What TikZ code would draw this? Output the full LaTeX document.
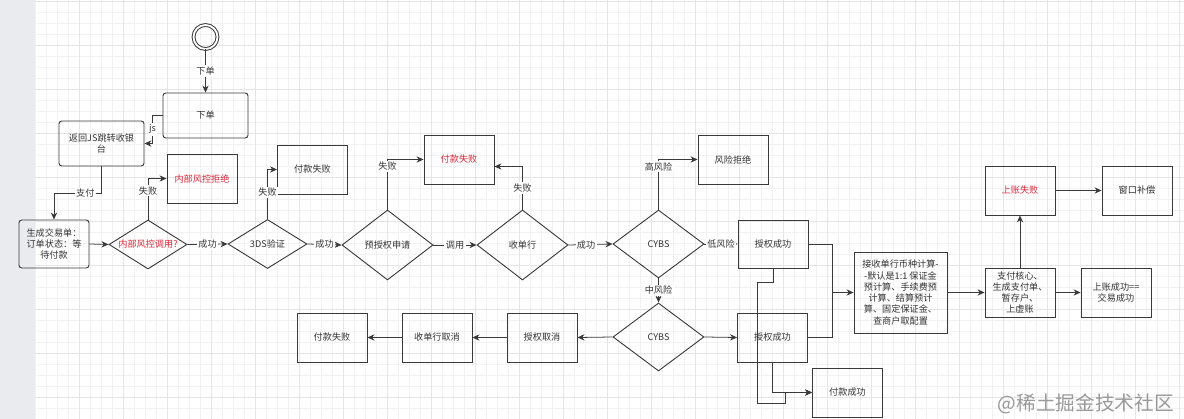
\documentclass[tikz,border=0pt]{standalone}
\usepackage{fontspec}
\setmainfont{Noto Sans CJK SC}
\usetikzlibrary{shapes.geometric, arrows.meta, calc}
\definecolor{riskred}{RGB}{222, 40, 58}
\definecolor{linegray}{RGB}{58, 58, 58}
\definecolor{sidegray}{RGB}{233, 235, 238}

\begin{document}
\begin{tikzpicture}[x=0.025cm, y=-0.025cm, font=\fontsize{6.5}{8}\selectfont, text=black!80,
    box/.style={draw=linegray, line width=0.65pt, minimum width=1.75cm, minimum height=1.225cm, align=center, inner sep=1pt},
    rbox/.style={box, rounded corners=2pt},
    decision/.style={diamond, draw=linegray, line width=0.65pt, inner sep=0pt},
    wire/.style={draw=linegray, line width=0.55pt},
    arr/.style={wire, -{Stealth[length=5pt, width=4.5pt]}},
    lbl/.style={fill=white, inner sep=1pt}]
                    \useasboundingbox (0,0) rectangle (1184,419);
                    % Canvas and grid
                    \fill[white] (0,0) rectangle (1184,419);
                    \fill[sidegray] (0,0) rectangle (35,419);
                    \foreach \gx in {35,46,...,1184} \draw[black!5, line width=0.3pt] (\gx,0) -- (\gx,419);
                    \foreach \gy in {1,12,...,419} \draw[black!5, line width=0.3pt] (35,\gy) -- (1184,\gy);
                    \foreach \gx in {79,123,...,1184} \draw[black!10, line width=0.4pt] (\gx,0) -- (\gx,419);
                    \foreach \gy in {1,45,...,419} \draw[black!10, line width=0.4pt] (35,\gy) -- (1184,\gy);

                    % Order entry
                    \node[circle, draw=linegray, line width=0.7pt, double=white, double distance=1.3pt, minimum size=0.6cm] (start) at (205.5,37) {};
                    \node[rbox, minimum width=2.125cm, minimum height=1.125cm] (order) at (205.5,115.5) {下单};
                    \node[rbox, minimum width=2.125cm, minimum height=1.125cm] (jsback) at (101.5,143.5) {返回JS跳转收银\\台};
                    \node[rbox, minimum height=1.2cm] (trade) at (54,244) {生成交易单：\\订单状态：等\\待付款};

                    % Checks
                    \node[decision, minimum width=1.95cm, minimum height=1.225cm, label={[text=riskred]center:内部风控调用?}] (riskchk) at (148,244.5) {};
                    \node[box, text=riskred] (riskrej) at (202,178.5) {内部风控拒绝};
                    \node[decision, minimum width=1.975cm, minimum height=1.225cm, label=center:3DS验证] (tds) at (267.5,244) {};
                    \node[box] (fail1) at (312.5,169.5) {付款失败};
                    \node[decision, minimum width=2.275cm, minimum height=1.75cm, label=center:预授权申请] (preauth) at (387.5,245) {};
                    \node[box, text=riskred] (fail2) at (459,159.5) {付款失败};
                    \node[decision, minimum width=2.275cm, minimum height=1.75cm, label=center:收单行] (acq) at (522.5,245) {};

                    % CYBS risk
                    \node[decision, minimum width=2.275cm, minimum height=1.7cm, label=center:CYBS] (cybs) at (658.5,244) {};
                    \node[box] (cybsrej) at (733,159.5) {风险拒绝};
                    \node[box, minimum height=1.2cm] (auth1) at (773,244) {授权成功};
                    \node[decision, minimum width=2.275cm, minimum height=1.7cm, label=center:CYBS] (cybs2) at (658.5,337) {};
                    \node[box] (auth2) at (772.5,337.5) {授权成功};
                    \node[box] (cancel) at (542,337.5) {授权取消};
                    \node[box] (acqcancel) at (437,337.5) {收单行取消};
                    \node[box] (fail3) at (332,337.5) {付款失败};
                    \node[box] (paysucc) at (847.5,392.5) {付款成功};

                    % Accounting
                    \node[box, minimum width=2.325cm, minimum height=2.025cm] (recv) at (900.5,292.5) {接收单行币种计算-\\-默认是1:1 保证金\\预计算、手续费预\\计算、结算预计\\算、固定保证金、\\查商户取配置};
                    \node[box] (core) at (1020,292.5) {支付核心、\\生成支付单、\\暂存户、\\上虚账};
                    \node[box, text=riskred] (upfail) at (1020,190.5) {上账失败};
                    \node[box] (comp) at (1137,190.5) {窗口补偿};
                    \node[box] (upsucc) at (1116,292.5) {上账成功==\\交易成功};
                    \node[text=black!40, font=\fontsize{14}{16}\selectfont, anchor=east] (mark) at (1179,404) {@稀土掘金技术社区};

                    % Connectors
                    \draw[arr] (start.south) -- node[lbl]{下单} (order.north);
                    \draw[arr] (order.west) -- ++(-10,0) |- node[lbl, pos=0.25]{js} (jsback.east);
                    \draw[arr] (jsback.south) -- ++(0,27) -| node[lbl, pos=0.17]{支付} (trade.north);
                    \draw[arr] (trade.east) -- (riskchk.west);
                    \draw[arr] (riskchk.north) |- node[lbl, pos=0.35]{失败} (riskrej.west);
                    \draw[arr] (riskchk.east) -- node[lbl]{成功} (tds.west);
                    \draw[arr] (tds.north) |- node[lbl, pos=0.27]{失败} (fail1.west);
                    \draw[arr] (tds.east) -- node[lbl]{成功} (preauth.west);
                    \draw[arr] (preauth.north) |- node[lbl, pos=0.43]{失败} (fail2.west);
                    \draw[arr] (preauth.east) -- node[lbl]{调用} (acq.west);
                    \draw[arr] (acq.north) |- node[lbl, pos=0.25]{失败} ($(fail2.east)+(0,7)$);
                    \draw[arr] (acq.east) -- node[lbl, pos=0.4]{成功} (cybs.west);
                    \draw[arr] (cybs.north) |- node[lbl, pos=0.43]{高风险} (cybsrej.west);
                    \draw[arr] (cybs.east) -- node[lbl]{低风险} (auth1.west);
                    \draw[arr] (cybs.south) -- node[lbl]{中风险} (cybs2.north);
                    \draw[arr] (cybs2.east) -- (auth2.west);
                    \draw[arr] (cybs2.west) -- (cancel.east);
                    \draw[arr] (cancel.west) -- (acqcancel.east);
                    \draw[arr] (acqcancel.west) -- (fail3.east);
                    \draw[arr] (auth1.south) -- ++(0,14) -- ++(-16,0) -- ++(0,121) -- ++(28,0) |- (paysucc.west);
                    \draw[arr] (auth2.south) |- (paysucc.west);
                    \coordinate (merge) at (832,292.5);
                    \draw[wire] (auth1.east) -| (merge);
                    \draw[wire] (auth2.east) -| (merge);
                    \draw[arr] (merge) -- (recv.west);
                    \draw[arr] (recv.east) -- (core.west);
                    \draw[arr] (core.north) -- (upfail.south);
                    \draw[arr] (upfail.east) -- (comp.west);
                    \draw[arr] (core.east) -- (upsucc.west);
                \end{tikzpicture}
\end{document}
